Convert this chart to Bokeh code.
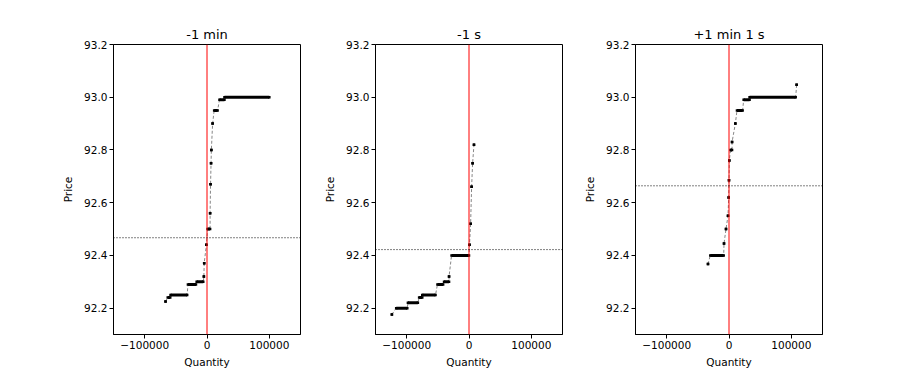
from bokeh.plotting import figure
from bokeh.layouts import row
from bokeh.models import Range1d, FixedTicker, Span
from bokeh.embed import file_html
from bokeh.resources import INLINE

# ---------------- data ----------------
titles = ["-1 min", "-1 s", "+1 min 1 s"]
mid_prices = [92.467, 92.422, 92.664]

x_ticks = [-100000, 0, 100000]
x_tick_labels = ["\u2212100000", "0", "100000"]
y_ticks = [92.2, 92.4, 92.6, 92.8, 93.0, 93.2]
y_tick_labels = ["92.2", "92.4", "92.6", "92.8", "93.0", "93.2"]

# book levels, ordered from deepest bid to deepest ask: price, cumulative qty range
p1_price = [92.225, 92.24, 92.25, 92.29, 92.30, 92.32, 92.37, 92.44,
            92.50, 92.56, 92.67, 92.75, 92.80, 92.90, 92.95, 92.99, 93.00]
p1_qty_from = [-66500, -63000, -58500, -30600, -16600, -5000, -4500, -1000,
               1000, 5000, 5700, 6500, 7000, 9000, 11500, 20000, 28000]
p1_qty_to = [-66500, -59000, -31800, -17700, -6000, -5000, -4500, -1000,
             5000, 5000, 5700, 6500, 7000, 9000, 17000, 28000, 100000]

p2_price = [92.176, 92.20, 92.22, 92.24, 92.25, 92.29, 92.30, 92.32, 92.40,
            92.44, 92.52, 92.66, 92.75, 92.82]
p2_qty_from = [-123700, -116800, -98000, -80000, -75000, -50600, -40000, -32000, -28000,
               800, 2600, 4200, 5800, 8000]
p2_qty_to = [-123700, -99000, -82000, -75000, -53700, -41500, -32000, -32000, 0,
             800, 2600, 4200, 5800, 8000]

p3_price = [92.367, 92.40, 92.445, 92.50, 92.55, 92.62, 92.685, 92.76,
            92.80, 92.83, 92.90, 92.95, 92.99, 93.00, 93.047]
p3_qty_from = [-33700, -30000, -8000, -4800, -1600, -500, 0, 500,
               2400, 4900, 10200, 12800, 23500, 33000, 108500]
p3_qty_to = [-33700, -8500, -8000, -4800, -1600, -500, 0, 500,
             4900, 4900, 10200, 21900, 33000, 107000, 108500]

panels = [
    (p1_price, p1_qty_from, p1_qty_to),
    (p2_price, p2_qty_from, p2_qty_to),
    (p3_price, p3_qty_from, p3_qty_to),
]

# ---------------- layout ----------------
FONT = "DejaVu Sans"
borders_left = [113, 65, 64]
borders_right = [10, 9, 10]


def make_panel(i):
    price, qfrom, qto = panels[i]
    p = figure(
        output_backend="svg", toolbar_location=None,
        frame_width=187, frame_height=290,
        min_border_left=borders_left[i], min_border_right=borders_right[i],
        min_border_top=44, min_border_bottom=34,
        x_range=Range1d(-150000, 150000), y_range=Range1d(92.1, 93.2),
        title=titles[i],
    )
    p.title.text_font = FONT
    p.title.text_font_size = "13px"
    p.title.text_font_style = "normal"
    p.title.align = "center"
    p.title.standoff = 5
    p.title.text_color = "black"

    p.xgrid.visible = False
    p.ygrid.visible = False
    p.outline_line_color = "black"
    p.outline_line_alpha = 1
    p.outline_line_width = 1
    p.background_fill_color = "white"
    p.border_fill_color = "white"

    p.xaxis.ticker = FixedTicker(ticks=x_ticks)
    p.xaxis.major_label_overrides = {t: l for t, l in zip(x_ticks, x_tick_labels)}
    p.yaxis.ticker = FixedTicker(ticks=y_ticks)
    p.yaxis.major_label_overrides = {t: l for t, l in zip(y_ticks, y_tick_labels)}
    p.xaxis.axis_label = "Quantity"
    p.yaxis.axis_label = "Price"
    for ax in (p.xaxis, p.yaxis):
        ax.axis_label_text_font = FONT
        ax.axis_label_text_font_size = "10.5px"
        ax.axis_label_text_font_style = "normal"
        ax.axis_label_text_color = "black"
        ax.major_label_text_font = FONT
        ax.major_label_text_font_size = "10.5px"
        ax.major_label_text_color = "black"
        ax.major_tick_out = 4
        ax.major_tick_in = 0
        ax.minor_tick_out = 0
        ax.minor_tick_in = 0
        ax.major_tick_line_color = "black"
        ax.axis_line_color = "black"
        ax.major_label_standoff = 2
    p.xaxis.axis_label_standoff = 4
    p.yaxis.axis_label_standoff = 7

    # thin connecting path through the book
    xs, ys = [], []
    for pr, a, b in zip(price, qfrom, qto):
        xs += [a, b]
        ys += [pr, pr]
    p.line(xs, ys, line_color="black", line_width=0.8, line_alpha=0.6, line_dash="3 2")

    # thick levels
    seg = [(pr, a, b) for pr, a, b in zip(price, qfrom, qto) if a != b]
    p.segment(x0=[s[1] for s in seg], x1=[s[2] for s in seg],
              y0=[s[0] for s in seg], y1=[s[0] for s in seg],
              line_color="black", line_width=3, line_cap="butt")
    p.scatter(xs, ys, marker="square", size=2.5, fill_color="black", line_color=None)

    p.add_layout(Span(location=0, dimension="height", line_color="red", line_width=1))
    p.add_layout(Span(location=mid_prices[i], dimension="width", line_color="black",
                      line_width=1, line_dash="1 2"))
    return p


layout = row(*[make_panel(i) for i in range(3)])
open("out.html", "w").write(file_html(layout, INLINE))
